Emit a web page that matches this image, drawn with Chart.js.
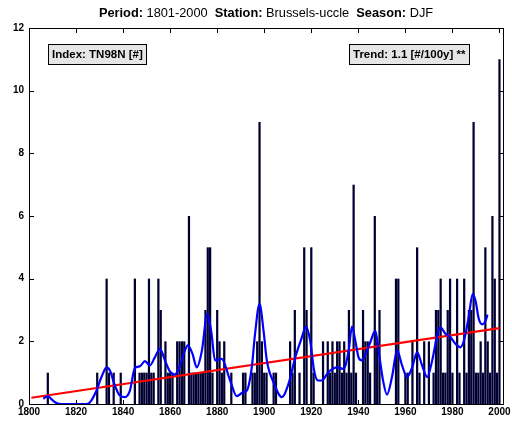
<!DOCTYPE html>
<html>
<head>
<meta charset="utf-8">
<script src="https://cdn.jsdelivr.net/npm/chart.js@4.4.0/dist/chart.umd.min.js"></script>
<style>
  html, body { margin: 0; padding: 0; background: #fff; }
  #wrap { width: 512px; height: 423px; }
</style>
</head>
<body>
<div id="wrap"><canvas id="chart" width="512" height="423"></canvas></div>
<script>
// yearly counts, DJF 1801..2000
const firstYear = 1801;
const counts = [
  0,0,0,0,0,0,0,1,0,0,  // 1801
  0,0,0,0,0,0,0,0,0,0,  // 1811
  0,0,0,0,0,0,0,0,1,0,  // 1821
  0,0,4,1,0,1,0,0,1,0,  // 1831
  0,0,0,0,4,0,1,1,1,1,  // 1841
  4,1,1,0,4,3,0,2,1,1,  // 1851
  1,0,2,2,2,2,0,6,1,1,  // 1861
  1,1,1,1,3,5,5,1,0,3,  // 1871
  2,1,2,0,0,1,0,0,0,0,  // 1881
  1,1,0,0,1,1,2,9,2,1,  // 1891
  1,0,0,1,1,0,0,0,0,0,  // 1901
  2,1,3,0,1,0,5,3,0,5,  // 1911
  1,0,0,0,2,0,2,1,2,1,  // 1921
  2,2,1,2,1,3,1,7,1,0,  // 1931
  0,3,2,2,1,0,6,2,3,0,  // 1941
  0,0,0,0,0,4,4,0,0,1,  // 1951
  1,0,2,0,5,1,0,2,0,2,  // 1961
  0,1,3,3,4,1,1,3,4,1,  // 1971
  0,4,1,0,4,1,3,3,9,1,  // 1981
  1,2,1,5,2,1,6,4,1,11  // 1991
];

// smoothed curve
const smoothYears = [
  1806.1, 1808, 1810, 1811.7, 1814, 1824, 1826, 1828.7, 1830.8, 1833, 1834.4, 1836.5,
  1838.6, 1840.8, 1842.9, 1845, 1847.1, 1849.3, 1851.4, 1853.5, 1855.7, 1857.8, 1859.9,
  1862, 1864.2, 1866.3, 1867.5, 1869.5, 1871.3, 1873.5, 1875.8, 1877.5, 1879.1, 1881.9,
  1885.5, 1888.3, 1891.1, 1892.6, 1894.7, 1896.1, 1898, 1899.7, 1901.1, 1903.9, 1907.5,
  1910.3, 1913.2, 1916, 1917.8, 1919.5, 1921.2, 1922.8, 1924.5, 1926.7, 1928.1, 1930.9,
  1933.7, 1935.9, 1937.3, 1938.7, 1940.1, 1941.6, 1943.7, 1945.1, 1947.2, 1948.6, 1950.5,
  1952.2, 1954.3, 1956.5, 1958.6, 1960.7, 1962.9, 1965, 1967.1, 1969.3, 1971.4, 1973.5,
  1974.9, 1977, 1979.2, 1981.3, 1983.4, 1985.1, 1987, 1988.6, 1989.8, 1991.2, 1992.7,
  1994.1, 1994.9
];
const smoothValues = [
  0.17, 0.25, 0.12, 0.03, 0, 0, 0.06, 0.43, 0.86, 1.17, 1.07, 0.59,
  0.27, 0.22, 0.43, 1.15, 1.2, 1.37, 1.23, 1.49, 1.76, 1.39, 1.04,
  0.94, 1.23, 1.71, 1.87, 1.6, 1.17, 1.7, 2.88, 2.3, 1.39, 1.44,
  0.75, 0.25, 0.38, 0.43, 1.17, 2.24, 3.2, 2.34, 1.39, 0.7, 0.22,
  0.64, 1.49, 2.13, 2.47, 2.03, 1.07, 0.75, 0.75, 0.96, 1.07, 1.17,
  1.12, 1.71, 2.47, 2.03, 1.49, 1.39, 1.71, 1.97, 2.34, 1.71, 0.75,
  0.3, 0.86, 1.71, 1.23, 0.86, 1.17, 1.65, 1.23, 0.86, 1.39, 2.18,
  2.45, 2.24, 2.13, 1.92, 1.81, 2.08, 2.82, 3.51, 3.3, 2.72, 2.54,
  2.66, 2.85
];

const trendYears = [1801, 2000];
const trendValues = [0.2, 2.42];

const xTicks = [1800, 1820, 1840, 1860, 1880, 1900, 1920, 1940, 1960, 1980, 2000];
const yTicks = [0, 2, 4, 6, 8, 10, 12];

const titleParts = [
  ['Period: ', true], ['1801-2000', false],
  ['  Station: ', true], ['Brussels-uccle', false],
  ['  Season: ', true], ['DJF', false]
];
const indexLabel = 'Index: TN98N [#]';
const trendLabel = 'Trend: 1.1 [#/100y] **';

const FONT = '"Liberation Sans", Arial, Helvetica, sans-serif';

const decor = {
  id: 'decor',
  afterDraw(chart) {
    const ctx = chart.ctx;
    const a = chart.chartArea;
    const xs = chart.scales.x, ys = chart.scales.y;
    ctx.save();
    ctx.fillStyle = '#000';
    const L = Math.round(a.left), R = Math.round(a.right);
    const T = Math.round(a.top), B = Math.round(a.bottom);
    // frame
    ctx.fillRect(L, T, R - L + 1, 1);
    ctx.fillRect(L, B, R - L + 1, 1);
    ctx.fillRect(L, T, 1, B - T + 1);
    ctx.fillRect(R, T, 1, B - T + 1);

    // inward ticks
    xTicks.forEach(v => {
      const px = Math.round(xs.getPixelForValue(v));
      ctx.fillRect(px, B - 4, 1, 4);
      ctx.fillRect(px, T + 1, 1, 4);
    });
    yTicks.forEach(v => {
      const py = Math.round(ys.getPixelForValue(v));
      ctx.fillRect(L + 1, py, 4, 1);
      ctx.fillRect(R - 4, py, 4, 1);
    });

    // title with mixed weights
    ctx.textBaseline = 'middle';
    ctx.textAlign = 'left';
    const tf = b => (b ? 'bold ' : '') + '12.8px ' + FONT;
    let total = 0;
    const widths = titleParts.map(([t, b]) => {
      ctx.font = tf(b);
      const w = ctx.measureText(t).width;
      total += w;
      return w;
    });
    let tx = (a.left + a.right) / 2 - total / 2;
    titleParts.forEach(([t, b], i) => {
      ctx.font = tf(b);
      ctx.fillText(t, tx, 13);
      tx += widths[i];
    });

    // label boxes
    const box = (text, x0, x1) => {
      ctx.fillStyle = '#000';
      ctx.fillRect(x0, 44, x1 - x0, 21);
      ctx.fillStyle = '#e6e6e6';
      ctx.fillRect(x0 + 1, 45, x1 - x0 - 2, 19);
      ctx.fillStyle = '#000';
      ctx.font = 'bold 11.5px ' + FONT;
      ctx.textBaseline = 'middle';
      ctx.fillText(text, x0 + 4, 55);
    };
    box(indexLabel, 48, 147);
    box(trendLabel, 349, 470);
    ctx.restore();
  }
};

new Chart(document.getElementById('chart'), {
  type: 'bar',
  data: {
    datasets: [
      {
        type: 'line',
        data: smoothYears.map((yr, i) => ({ x: yr, y: smoothValues[i] })),
        borderColor: '#0000ff',
        borderWidth: 2.2,
        pointRadius: 0,
        cubicInterpolationMode: 'monotone',
        order: 0
      },
      {
        type: 'line',
        data: trendYears.map((yr, i) => ({ x: yr, y: trendValues[i] })),
        borderColor: '#ff0000',
        borderWidth: 2.2,
        pointRadius: 0,
        order: 1
      },
      {
        type: 'bar',
        data: counts.map((v, i) => ({ x: firstYear + i, y: v })),
        backgroundColor: '#000033',
        borderWidth: 0,
        categoryPercentage: 1,
        barPercentage: 0.95,
        order: 2
      }
    ]
  },
  options: {
    responsive: false,
    animation: false,
    layout: { padding: { top: 28, right: 9, left: 0, bottom: 0 } },
    plugins: { legend: { display: false }, tooltip: { enabled: false }, title: { display: false } },
    scales: {
      x: {
        type: 'linear',
        min: 1800,
        max: 2001.5,
        offset: false,
        grid: { display: false, drawTicks: false, tickLength: 0 },
        border: { display: false },
        afterBuildTicks: s => { s.ticks = xTicks.map(v => ({ value: v })); },
        afterFit: s => { s.height = 19; s.paddingLeft = 0; s.paddingRight = 0; },
        ticks: {
          callback: v => String(v),
          maxRotation: 0,
          autoSkip: false,
          padding: 2,
          color: '#000',
          font: { family: FONT, size: 10, weight: 'bold' }
        }
      },
      y: {
        min: 0,
        max: 12,
        grid: { display: false, drawTicks: false, tickLength: 0 },
        border: { display: false },
        afterBuildTicks: s => { s.ticks = yTicks.map(v => ({ value: v })); },
        afterFit: s => { s.width = 29; s.paddingTop = 0; s.paddingBottom = 0; },
        ticks: {
          padding: 5,
          color: '#000',
          font: { family: FONT, size: 10, weight: 'bold' }
        }
      }
    }
  },
  plugins: [decor]
});
</script>
</body>
</html>
